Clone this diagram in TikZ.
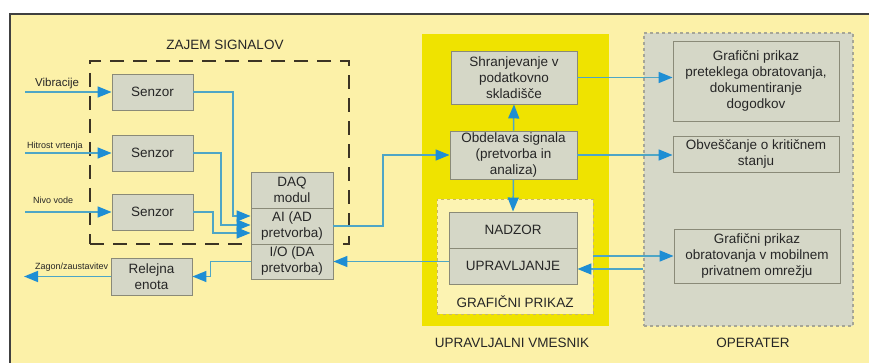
\documentclass[tikz,border=0pt]{standalone}
\usepackage{fontspec}
\setmainfont{Liberation Sans}
\usetikzlibrary{arrows.meta}
\definecolor{bgc}{HTML}{FCF1A8}
\definecolor{framec}{HTML}{404040}
\definecolor{yelc}{HTML}{EFE300}
\definecolor{gpfill}{HTML}{FCF3B2}
\definecolor{gpline}{HTML}{C8B66A}
\definecolor{opfill}{HTML}{D6D8C8}
\definecolor{opline}{HTML}{A6A696}
\definecolor{boxfill}{HTML}{D5D7C7}
\definecolor{boxline}{HTML}{8A8A78}
\definecolor{txtc}{HTML}{262626}
\definecolor{linec}{HTML}{4EA6C6}
\definecolor{arrowc}{HTML}{1E8ED4}
\definecolor{dashc}{HTML}{3C3424}
\tikzset{
  box/.style={draw=boxline, fill=boxfill, line width=0.9pt, inner sep=1pt, align=center,
    font=\fontsize{13.5}{16}\selectfont, text=txtc},
  arr/.style={draw=linec, line width=1.5pt, -{Triangle[length=14pt,width=11pt,color=arrowc]}},
  lbl/.style={font=\fontsize{13.5}{16}\selectfont, text=txtc},
  small/.style={font=\fontsize{9}{10}\selectfont, text=txtc, anchor=west, inner sep=0pt},
  cont/.style={inner sep=0pt}
}
\begin{document}
\begin{tikzpicture}[x=1pt,y=-1pt]
\useasboundingbox (0,0) rectangle (869,363);
\fill[white] (0,0) rectangle (869,363);
\draw[fill=bgc, draw=framec, line width=1.5pt] (10,14) rectangle (872,366);

% containers
\node[cont, draw=dashc, line width=1.3pt, dash pattern=on 14pt off 9pt, minimum width=259pt, minimum height=183pt] (zaj) at (219.5,152.5) {};
\node[lbl] (zajt) at (225,45) {ZAJEM SIGNALOV};
\node[cont, fill=yelc, minimum width=187pt, minimum height=292pt] (um) at (515.5,180) {};
\node[lbl] (umt) at (512,343) {UPRAVLJALNI VMESNIK};
\node[cont, fill=gpfill, draw=gpline, dashed, line width=0.9pt, minimum width=156pt, minimum height=115pt] (gp) at (515,256.5) {};
\node[lbl] (gpt) at (515,302) {GRAFIČNI PRIKAZ};
\node[cont, fill=opfill, draw=opline, dashed, line width=1.1pt, minimum width=209pt, minimum height=293pt] (op) at (748.5,179.5) {};
\node[lbl] (opt) at (753,343) {OPERATER};

% boxes
\node[box, minimum width=81pt, minimum height=36pt] (s1) at (152.5,92) {Senzor};
\node[box, minimum width=81pt, minimum height=36pt] (s2) at (152.5,153) {Senzor};
\node[box, minimum width=81pt, minimum height=36pt] (s3) at (152.5,212) {Senzor};
\node[box, minimum width=82pt, minimum height=36pt] (daq) at (292,190) {DAQ\\modul};
\node[box, minimum width=82pt, minimum height=36pt] (ai) at (292,226) {AI (AD\\pretvorba)};
\node[box, minimum width=82pt, minimum height=35pt] (io) at (292,261.5) {I/O (DA\\pretvorba)};
\node[box, minimum width=81pt, minimum height=37pt] (rel) at (151.5,276.5) {Relejna\\enota};
\node[box, minimum width=126pt, minimum height=53pt] (sh) at (514,77.5) {Shranjevanje v\\podatkovno\\skladišče};
\node[box, minimum width=127pt, minimum height=48pt] (ob) at (513.5,155) {Obdelava signala\\(pretvorba in\\analiza)};
\node[box, minimum width=128pt, minimum height=36pt] (nad) at (513,230) {NADZOR};
\node[box, minimum width=128pt, minimum height=36pt] (up) at (513,266) {UPRAVLJANJE};
\node[box, minimum width=166pt, minimum height=80pt] (g1) at (756,81) {Grafični prikaz\\preteklega obratovanja,\\dokumentiranje\\dogodkov};
\node[box, minimum width=166pt, minimum height=36pt] (obv) at (756,154) {Obveščanje o kritičnem\\stanju};
\node[box, minimum width=166pt, minimum height=54pt] (g3) at (757,256) {Grafični prikaz\\obratovanja v mobilnem\\privatnem omrežju};

% small labels
\node[small, font=\fontsize{11.5}{13}\selectfont] (l1) at (35,84) {Vibracije};
\node[small] (l2) at (27,146) {Hitrost vrtenja};
\node[small] (l3) at (33,200) {Nivo vode};
\node[small] (l4) at (35,267) {Zagon/zaustavitev};

\coordinate (in1) at (25,92);
\coordinate (in2) at (25,153);
\coordinate (in3) at (25,212);
\coordinate (out1) at (24,276.5);

% connectors
\draw[arr] (in1) -- (s1.west);
\draw[arr] (in2) -- (s2.west);
\draw[arr] (in3) -- (s3.west);
\draw[arr] (s1.east) -| (233,216) -- (ai.west |- 0,216);
\draw[arr] (s2.east) -| (221,225) -- (ai.west |- 0,225);
\draw[arr] (s3.east) -| (213,233) -- (ai.west |- 0,233);
\draw[arr] (ai.east) -| (383,155) -- (ob.west);
\draw[arr] (ob.north) -- (sh.south);
\draw[arr] (ob.south) -- (nad.north);
\draw[arr] (sh.east) -- (g1.west |- sh.east);
\draw[arr] (ob.east) -- (obv.west |- ob.east);
\draw[arr] (gp.east |- g3.west) -- (g3.west);
\draw[arr] (op.west |- 0,269) -- (up.east |- 0,269);
\draw[arr] (up.west |- io.east) -- (io.east);
\draw[arr] (io.west) -- ++(-40,0) |- (rel.east);
\draw[arr] (rel.west) -- (out1);
\end{tikzpicture}
\end{document}
